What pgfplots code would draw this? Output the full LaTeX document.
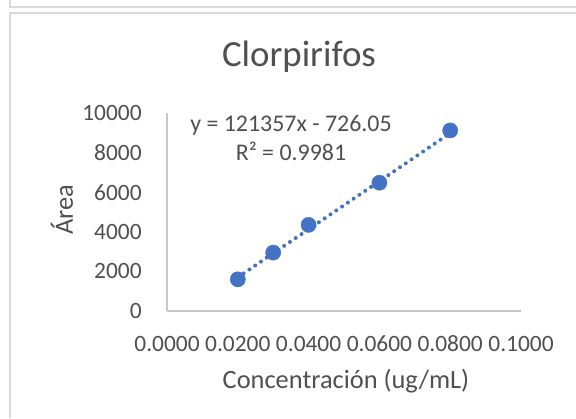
\documentclass[border=0pt]{standalone}
\usepackage{pgfplots}
\pgfplotsset{compat=1.18}
\usepackage{fontspec}
\setmainfont{Carlito}
\definecolor{txt}{HTML}{505050}
\definecolor{pt}{HTML}{4472C4}
\definecolor{axl}{HTML}{C8C8C8}
\definecolor{frm}{HTML}{D9D9D9}
\begin{document}
\begin{tikzpicture}[x=1bp,y=1bp]
\useasboundingbox (0,0) rectangle (576,418);
\fill[white] (0,0) rectangle (576,418);
\draw[frm, line width=1.8bp] (10,418) -- (10,411) -- (576,411);
\draw[frm, line width=1.8bp] (10,0) -- (10,405) -- (576,405);
\begin{axis}[
  at={(167bp,107bp)}, anchor=south west,
  scale only axis, width=354bp, height=198bp,
  xmin=0, xmax=0.1, ymin=0, ymax=10000,
  clip=false,
  scaled x ticks=false, scaled y ticks=false,
  axis lines=left,
  axis line style={draw=axl, line width=1.5bp, -},
  tick style={draw=none},
  xtick={0,0.02,0.04,0.06,0.08,0.1},
  xticklabels={0.0000,0.0200,0.0400,0.0600,0.0800,0.1000},
  ytick={0,2000,4000,6000,8000,10000},
  yticklabels={0,2000,4000,6000,8000,10000},
  ticklabel style={font=\fontsize{23.5}{28}\selectfont, text=txt, inner sep=0pt},
  xticklabel style={anchor=base, yshift=-38.5bp},
  yticklabel style={anchor=east, xshift=-23bp},
]
\addplot[pt, line width=4bp, line cap=round, dash pattern=on 0pt off 7bp]
  coordinates {(0.02,1701.09) (0.08,8982.51)};
\addplot[only marks, mark=*, mark size=7.6bp, mark options={draw=pt, fill=pt}]
  coordinates {(0.02,1600) (0.03,2950) (0.04,4350) (0.06,6480) (0.08,9120)};
\end{axis}
\node[text=txt, font=\fontsize{37}{42}\selectfont] at (299,361) {Clorpirifos};
\node[text=txt, font=\fontsize{24}{28}\selectfont] at (291,293) {y = 121357x - 726.05};
\node[text=txt, font=\fontsize{24}{28}\selectfont] at (291,267) {R² = 0.9981};
\node[text=txt, font=\fontsize{26.5}{30}\selectfont] at (346,37) {Concentración (ug/mL)};
\node[text=txt, font=\fontsize{26.5}{30}\selectfont, rotate=90] at (62,208) {Área};
\end{tikzpicture}
\end{document}
